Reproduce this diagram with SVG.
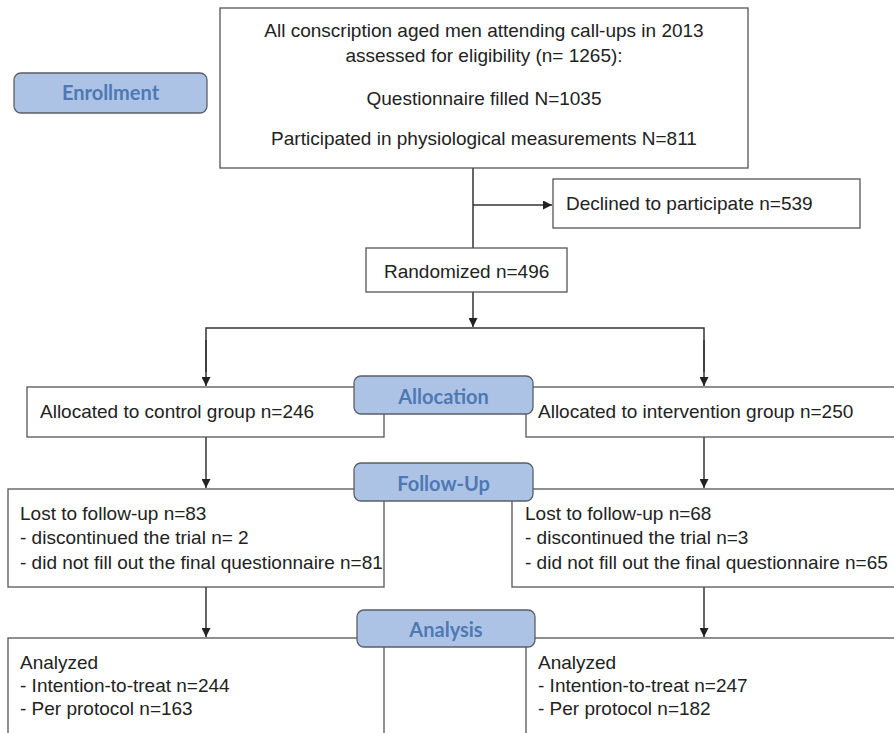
<svg xmlns="http://www.w3.org/2000/svg" width="894" height="733" viewBox="0 0 894 733">
<style>
.box{fill:#fff;stroke:#555;stroke-width:1.3}
.t{font-family:"Liberation Sans",Arial,sans-serif;font-size:19px;fill:#222}
.lab{fill:#adc3e5;stroke:#5a5f66;stroke-width:1.3}
.lt{font-family:Lato,"Open Sans",sans-serif;font-weight:bold;font-size:20px;fill:#4d79b4;text-anchor:middle}
.c{stroke:#333;stroke-width:1.5;fill:none}
</style>
<defs>
<marker id="ah" viewBox="0 0 10 10" refX="10" refY="5" markerWidth="9" markerHeight="9" markerUnits="userSpaceOnUse" orient="auto">
<path d="M0,0 L10,5 L0,10 z" fill="#222"/>
</marker>
</defs>
<rect width="894" height="733" fill="#fff"/>
<g id="connectors">
<line class="c" x1="473" y1="168" x2="473" y2="248"/>
<line class="c" x1="473" y1="205" x2="552" y2="205" marker-end="url(#ah)"/>
<line class="c" x1="473" y1="292" x2="473" y2="327" marker-end="url(#ah)"/>
<polyline class="c" points="206,372 206,328 704,328 704,372"/>
<line class="c" x1="206" y1="340" x2="206" y2="386" marker-end="url(#ah)"/>
<line class="c" x1="704" y1="340" x2="704" y2="386" marker-end="url(#ah)"/>
<line class="c" x1="206" y1="437" x2="206" y2="488" marker-end="url(#ah)"/>
<line class="c" x1="704" y1="437" x2="704" y2="488" marker-end="url(#ah)"/>
<line class="c" x1="206" y1="587" x2="206" y2="637" marker-end="url(#ah)"/>
<line class="c" x1="704" y1="587" x2="704" y2="637" marker-end="url(#ah)"/>
</g>
<g id="enrollment-box">
<rect class="box" x="220" y="8" width="528" height="160"/>
<text class="t" x="484" y="37" text-anchor="middle">All conscription aged men attending call-ups in 2013</text>
<text class="t" x="484" y="62" text-anchor="middle">assessed for eligibility (n= 1265):</text>
<text class="t" x="484" y="105" text-anchor="middle">Questionnaire filled N=1035</text>
<text class="t" x="484" y="145" text-anchor="middle">Participated in physiological measurements N=811</text>
</g>
<g id="declined">
<rect class="box" x="553" y="179" width="307" height="49"/>
<text class="t" x="566" y="210">Declined to participate n=539</text>
</g>
<g id="randomized">
<rect class="box" x="366" y="248" width="201" height="44"/>
<text class="t" x="384" y="278">Randomized n=496</text>
</g>
<g id="alloc-control">
<rect class="box" x="27" y="387" width="357" height="50"/>
<text class="t" x="40" y="418">Allocated to control group n=246</text>
</g>
<g id="alloc-intervention">
<rect class="box" x="526" y="387" width="372" height="50"/>
<text class="t" x="538" y="418">Allocated to intervention group n=250</text>
</g>
<g id="followup-control">
<rect class="box" x="8" y="489" width="376" height="98"/>
<text class="t" x="20" y="520">Lost to follow-up n=83</text>
<text class="t" x="20" y="544">- discontinued the trial n= 2</text>
<text class="t" x="20" y="569">- did not fill out the final questionnaire n=81</text>
</g>
<g id="followup-intervention">
<rect class="box" x="512" y="489" width="386" height="98"/>
<text class="t" x="525" y="520">Lost to follow-up n=68</text>
<text class="t" x="525" y="544">- discontinued the trial n=3</text>
<text class="t" x="525" y="569">- did not fill out the final questionnaire n=65</text>
</g>
<g id="analysis-control">
<rect class="box" x="8" y="638" width="376" height="110"/>
<text class="t" x="20" y="669">Analyzed</text>
<text class="t" x="20" y="692">- Intention-to-treat n=244</text>
<text class="t" x="20" y="715">- Per protocol n=163</text>
</g>
<g id="analysis-intervention">
<rect class="box" x="526" y="638" width="372" height="110"/>
<text class="t" x="538" y="669">Analyzed</text>
<text class="t" x="538" y="692">- Intention-to-treat n=247</text>
<text class="t" x="538" y="715">- Per protocol n=182</text>
</g>
<g id="label-enrollment">
<rect class="lab" x="14" y="73" width="193" height="40" rx="7"/>
<text class="lt" x="110.5" y="100">Enrollment</text>
</g>
<g id="label-allocation">
<rect class="lab" x="354" y="376" width="179" height="38" rx="7"/>
<text class="lt" x="443.5" y="404">Allocation</text>
</g>
<g id="label-followup">
<rect class="lab" x="354" y="463" width="179" height="38" rx="7"/>
<text class="lt" x="443.5" y="491">Follow-Up</text>
</g>
<g id="label-analysis">
<rect class="lab" x="357" y="610" width="178" height="37" rx="7"/>
<text class="lt" x="446" y="637">Analysis</text>
</g>
</svg>
